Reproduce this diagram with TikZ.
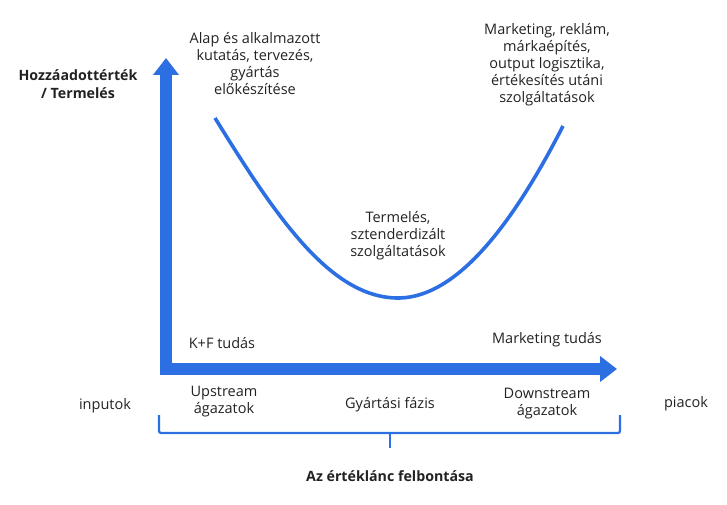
\documentclass[tikz,border=0pt]{standalone}
\usepackage{fontspec}
\setmainfont{Open Sans}
\usepackage{tikz}
\usetikzlibrary{arrows.meta,decorations.pathreplacing}
\definecolor{cBlue}{HTML}{2B6FE3}
\definecolor{cText}{HTML}{222222}

\begin{document}
\begin{tikzpicture}[x=1pt,y=-1pt,
  lbl/.style={text=cText,align=center,font=\fontsize{14.5}{17}\selectfont},
  blbl/.style={lbl,font=\fontsize{14.2}{18}\selectfont\bfseries},
  axis/.style={cBlue,line width=11.5pt,-{Triangle[width=25pt,length=17pt]}}]
\useasboundingbox (0,0) rectangle (727,505);
\def\u{166}
\def\v{369}
\coordinate (O) at (\u,375);
\coordinate (Oh) at (161,\v);
\coordinate (yTip) at (\u,58);
\coordinate (xTip) at (617,\v);
\draw[axis] (O) -- (yTip);
\draw[axis] (Oh) -- (xTip);
% mosolygorbe
\coordinate (cs) at (215,118);
\coordinate (cm) at (398,298);
\coordinate (ce) at (563,126);
\draw[cBlue,line width=3.6pt] (cs) .. controls (275,215) and (330,298) .. (cm)
  .. controls (462,298) and (520,210) .. (ce);
\node[blbl] (yLab) at (78,84) {Hozzáadottérték\\/ Termelés};
\node[lbl] (rd) at (255,64) {Alap és alkalmazott\\kutatás, tervezés,\\gyártás\\előkészítése};
\node[lbl] (mkt) at (547,65) {Marketing, reklám,\\márkaépítés,\\output logisztika,\\értékesítés utáni\\szolgáltatások};
\node[lbl] (prod) at (398,236) {Termelés,\\sztenderdizált\\szolgáltatások};
\node[lbl] (kf) at (222,343) {K+F tudás};
\node[lbl] (mt) at (547,340) {Marketing tudás};
\node[lbl] (up) at (224,402) {Upstream\\ágazatok};
\node[lbl] (gy) at (390,405) {Gyártási fázis};
\node[lbl] (down) at (547,404) {Downstream\\ágazatok};
\node[lbl] (inp) at (105,406) {inputok};
\node[lbl] (pia) at (686,404) {piacok};
\coordinate (bL) at (159,415);
\coordinate (bR) at (620,415);
\coordinate (bM) at (390,433);
\coordinate (bT) at (390,448);
\draw[cBlue,line width=2.2pt,rounded corners=2pt] (bL) |- (bM) -| (bR);
\draw[cBlue,line width=2.2pt] (bM) -- (bT);
\node[blbl] (ttl) at (390,476) {Az értéklánc felbontása};
\end{tikzpicture}
\end{document}
